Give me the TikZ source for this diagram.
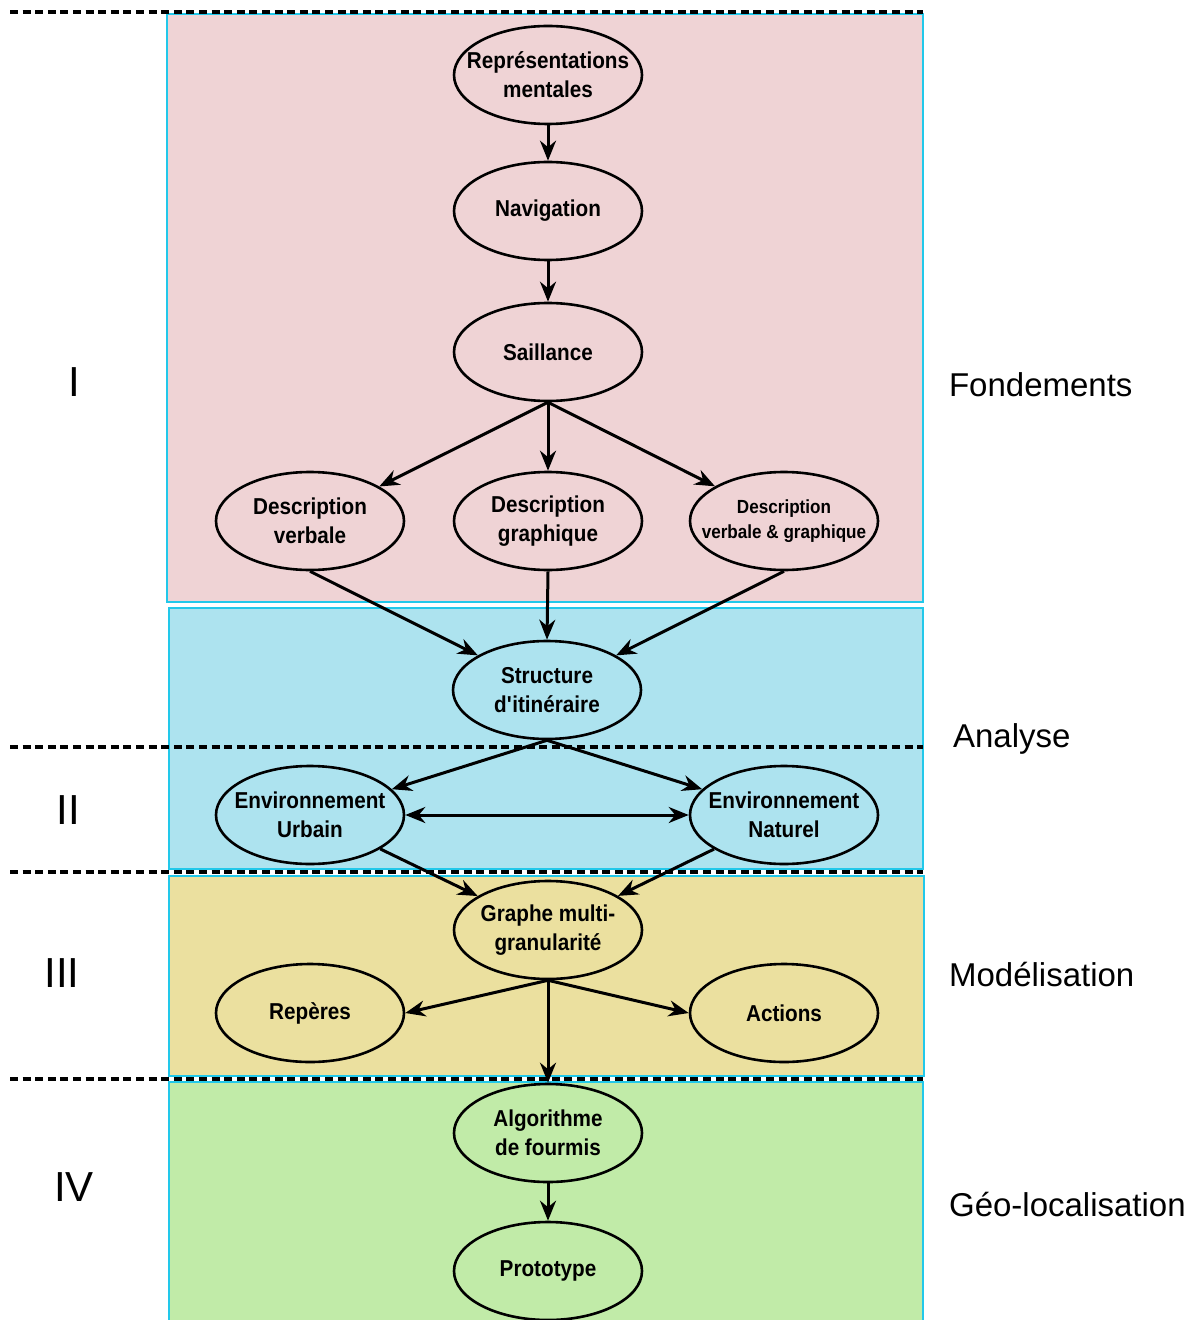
\documentclass[tikz,border=0pt]{standalone}
\usepackage{fontspec}
\setmainfont{Liberation Sans}
\newfontfamily\conceptfont[FakeStretch=0.9]{Liberation Sans}
\usetikzlibrary{arrows.meta, shapes.geometric}

\definecolor{bandpink}{HTML}{EFD3D5}
\definecolor{bandblue}{HTML}{ADE3EF}
\definecolor{bandyellow}{HTML}{EBE09F}
\definecolor{bandgreen}{HTML}{C1EBA8}
\definecolor{bandedge}{HTML}{22C8EA}

\begin{document}
\begin{tikzpicture}[x=0.5pt, y=-0.5pt]
        % Define styles
        \tikzset{
            band/.style={draw=bandedge, line width=1pt},
            sep/.style={line width=1.7pt, dash pattern=on 4pt off 2.3pt},
            concept/.style={ellipse, draw, line width=1.3pt, minimum width=94pt, minimum height=49pt,
                inner xsep=-10pt, inner ysep=0pt, align=center,
                font=\conceptfont\fontsize{11.5}{14.5}\selectfont\bfseries},
            flow/.style={-{Stealth[length=10pt, width=8pt]}, line width=1.5pt},
            level/.style={font=\fontsize{21}{24}\selectfont},
            part/.style={font=\fontsize{16.5}{19}\selectfont, anchor=west}
        }
        \useasboundingbox (0,0) rectangle (1195,1320);
        % Draw the coloured bands
        \draw[band, fill=bandpink] (167,14) rectangle (923,602);
        \draw[band, fill=bandblue] (169,608) rectangle (923,869);
        \draw[band, fill=bandyellow] (169,876) rectangle (924,1076);
        \draw[band, fill=bandgreen] (169,1082) rectangle (923,1322);
        % Dashed separators between the parts
        \foreach \y in {12, 747, 872, 1079}
            \draw[sep] (10,\y) -- (923,\y);
        % Part numbers
        \node[level] (lvlI) at (74,382) {I};
        \node[level] (lvlII) at (68,810) {II};
        \node[level] (lvlIII) at (62,973) {III};
        \node[level] (lvlIV) at (74,1187) {IV};
        % Part titles
        \node[part] (fond) at (942,385) {Fondements};
        \node[part] (anal) at (946,739) {Analyse};
        \node[part] (modl) at (942,975) {Modélisation};
        \node[part] (geol) at (942,1204) {Géo-localisation};
        % Concepts
        \node[concept] (repr) at (548,75) {Représentations\\mentales};
        \node[concept] (navi) at (548,211) {Navigation};
        \node[concept] (sail) at (548,352) {Saillance};
        \node[concept] (dverb) at (310,521) {Description\\verbale};
        \node[concept] (dgraph) at (548,521) {Description\\graphique};
        \node[concept, font=\conceptfont\fontsize{9.5}{12.5}\selectfont\bfseries] (dboth) at (784,521) {Description\\verbale \& graphique};
        \node[concept] (struc) at (547,690) {Structure\\d\textquotesingle itinéraire};
        \node[concept] (urb) at (310,815) {Environnement\\Urbain};
        \node[concept] (nat) at (784,815) {Environnement\\Naturel};
        \node[concept] (graphe) at (548,930) {Graphe multi-\\granularité};
        \node[concept] (reperes) at (310,1013) {Repères};
        \node[concept] (actions) at (784,1013) {Actions};
        \node[concept] (algo) at (548,1133) {Algorithme\\de fourmis};
        \node[concept] (proto) at (548,1271) {Prototype};
        % Connectors
        \draw[flow] (repr) -- (navi);
        \draw[flow] (navi) -- (sail);
        \draw[flow] (sail.south) -- (dverb);
        \draw[flow] (sail.south) -- (dgraph.north);
        \draw[flow] (sail.south) -- (dboth);
        \draw[flow] (dverb.south) -- (struc);
        \draw[flow] (dgraph.south) -- (struc.north);
        \draw[flow] (dboth.south) -- (struc);
        \draw[flow] (struc.south) -- (urb);
        \draw[flow] (struc.south) -- (nat);
        \draw[{Stealth[length=10pt, width=8pt]}-{Stealth[length=10pt, width=8pt]}, line width=1.5pt] (urb.east) -- (nat.west);
        \draw[flow] (urb) -- (graphe);
        \draw[flow] (nat) -- (graphe);
        \draw[flow] (graphe.south) -- (reperes.east);
        \draw[flow] (graphe.south) -- (actions.west);
        \draw[flow] (graphe.south) -- (algo.north);
        \draw[flow] (algo) -- (proto);
\end{tikzpicture}
\end{document}
